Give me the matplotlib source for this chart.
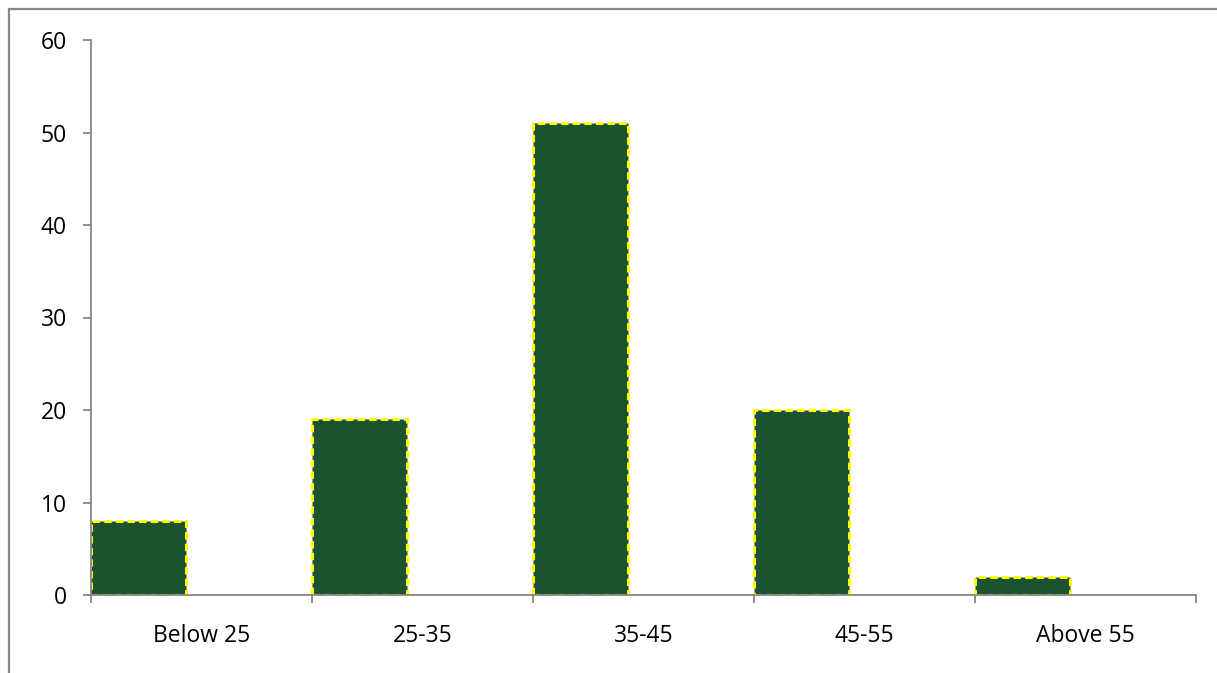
import matplotlib.pyplot as plt
from matplotlib.patches import Rectangle
import numpy as np

# data
groups = ['Below 25', '25-35', '35-45', '45-55', 'Above 55']
counts = [8, 19, 51, 20, 2]
yticks = [0, 10, 20, 30, 40, 50, 60]

plt.rcParams['font.family'] = ['Open Sans', 'DejaVu Sans']

fig = plt.figure(figsize=(12.17, 6.73), dpi=100)
ax = fig.add_axes([91/1217, 78/673, 1105/1217, 555/673])

gray = '#868686'
x = np.arange(len(groups))
ax.bar(x, counts, width=0.43, align='edge', color='#1c5230',
       edgecolor='#ffff00', linewidth=2.2, linestyle=(0, (2.4, 1.4)))

ax.set_xlim(0, len(groups))
ax.set_ylim(0, 60)
ax.set_yticks(yticks)
ax.set_xticks(np.arange(len(groups) + 1))
ax.set_xticklabels([])
ax.set_xticks(x + 0.5, minor=True)
ax.set_xticklabels(groups, minor=True, fontsize=16.5)

for s in ['top', 'right']:
    ax.spines[s].set_visible(False)
for s in ['left', 'bottom']:
    ax.spines[s].set_color(gray)
    ax.spines[s].set_linewidth(1.3)

ax.tick_params(axis='y', length=5.5, width=1.3, color=gray, pad=12, labelsize=16.5)
ax.tick_params(axis='x', which='major', length=5.5, width=1.3, color=gray)
ax.tick_params(axis='x', which='minor', length=0, pad=21)

# chart area border (only top and left visible)
fig.patches.append(Rectangle((9/1217, -0.1), 1.2, 1.1 - 9/673, transform=fig.transFigure,
                             fill=False, edgecolor=gray, linewidth=1.6))

fig.savefig('out.png', dpi=100)
